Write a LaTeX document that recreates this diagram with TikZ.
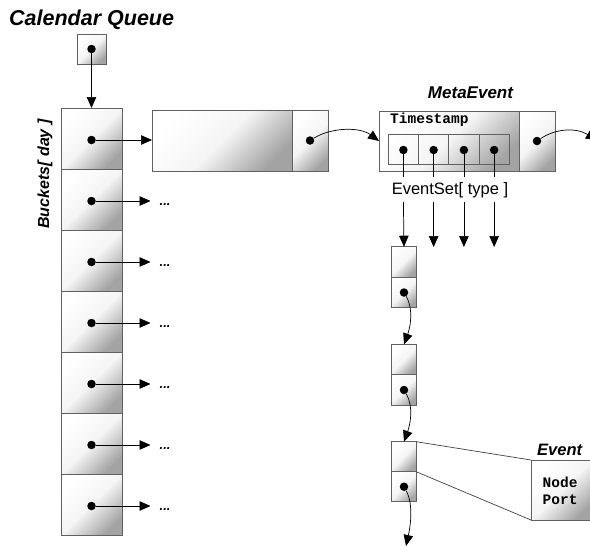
\documentclass[tikz,border=0pt]{standalone}
\usepackage{fontspec}
\setmainfont{Liberation Sans}
\newfontfamily\monofont{Liberation Mono}
\usetikzlibrary{arrows.meta}
\tikzset{
  cell/.style={draw=black!62, line width=0.9pt, inner sep=0pt, outer sep=0pt,
    top color=white, bottom color=black!36, middle color=black!4, shading angle=45},
  plain/.style={draw=black!62, line width=0.9pt, inner sep=0pt, outer sep=0pt},
  dotn/.style={circle, fill=black, inner sep=0pt, minimum size=8.5pt},
  arr/.style={-{Triangle[length=11pt,width=9.5pt]}, line width=0.7pt, black},
  conn/.style={line width=0.7pt, black},
  slant/.style={line width=0.7pt, black!75},
  title/.style={font=\fontsize{21.5}{23}\selectfont\bfseries\itshape, inner sep=0pt},
  lbl/.style={font=\fontsize{16.5}{18}\selectfont\bfseries\itshape, inner sep=0pt},
  more/.style={font=\fontsize{13}{14}\selectfont\bfseries\itshape, inner sep=0pt},
  mono/.style={font=\fontsize{14.5}{16}\selectfont\monofont\bfseries, inner sep=0pt},
}
\begin{document}
\begin{tikzpicture}[x=1pt,y=-1pt]
\useasboundingbox (0,0) rectangle (590,547);
\clip (0,0) rectangle (590,547);

% title
\node[title, anchor=base west] (ttl) at (9,25) {Calendar Queue};
\node[cell, minimum width=29pt, minimum height=30pt] (cq) at (91.5,49) {};
\node[dotn] (dcq) at (cq.center) {};

% buckets
\node[lbl, rotate=90, font=\fontsize{16}{18}\selectfont\bfseries\itshape] (bkl) at (45,174) {Buckets[ day ]};
\foreach \i in {1,...,7}{
  \node[cell, minimum width=61pt, minimum height=61pt] (b\i) at (91.5,{138.5+61*(\i-1)}) {};
  \node[dotn] (db\i) at ([yshift=-1.5pt]b\i.center) {};
}
\draw[arr] (dcq) -- (b1.north);

% long box
\node[cell, minimum width=140pt, minimum height=61pt] (lb1) at (222,140.5) {};
\node[cell, minimum width=36pt, minimum height=61pt] (lb2) at (310,140.5) {};
\node[dotn] (dlb) at (lb2.center) {};
\draw[arr] (db1) -- (db1 -| lb1.west);

% other bucket pointers
\foreach \i in {2,...,7}{
  \coordinate (e\i) at ([xshift=59pt]db\i.center);
  \draw[arr] (db\i) -- (e\i);
  \node[more, anchor=base west] (m\i) at ([xshift=9pt,yshift=-4pt]e\i) {...};
}

% MetaEvent
\node[lbl, anchor=base, font=\fontsize{17}{18}\selectfont\bfseries\itshape] (mel) at (470.5,98) {MetaEvent};
\node[cell, minimum width=140pt, minimum height=60pt] (me1) at (449,141) {};
\node[cell, minimum width=36pt, minimum height=60pt] (me2) at (537,141) {};
\node[dotn] (dme) at (me2.center) {};
\node[mono, anchor=west] (ts) at (390,120) {Timestamp};
\foreach \i in {1,...,4}{
  \node[plain, minimum width=30.25pt, minimum height=30pt] (c\i) at ({403.4+30.25*(\i-1)},149) {};
  \node[dotn] (dc\i) at ([yshift=-1pt]c\i.center) {};
}
\draw[arr] (dlb) .. controls (332,127) and (360,127) .. (me1.west);
\coordinate (mout) at (597,140);
\draw[arr] (dme) .. controls (555,129) and (575,127) .. (mout);

% EventSet
\node[font=\fontsize{16.5}{18}\selectfont, inner sep=0pt] (es) at (450,190) {EventSet[ type ]};
\foreach \i in {1,...,4}{
  \coordinate (u\i) at ([yshift=-27pt]dc\i.center);
  \draw[conn] (dc\i) -- (u\i);
}

% chain
\node[cell, minimum width=24.3pt, minimum height=30.6pt] (ch1a) at (404,262) {};
\node[cell, minimum width=24.3pt, minimum height=30.4pt] (ch1b) at (404,292.5) {};
\node[cell, minimum width=24.3pt, minimum height=30.6pt] (ch2a) at (404,359.7) {};
\node[cell, minimum width=24.3pt, minimum height=30.4pt] (ch2b) at (404,390) {};
\node[cell, minimum width=24.3pt, minimum height=30pt] (ch3a) at (404,456.7) {};
\node[cell, minimum width=24.3pt, minimum height=30pt] (ch3b) at (404,486.7) {};
\node[dotn] (dch1) at (ch1b.center) {};
\node[dotn] (dch2) at (ch2b.center) {};
\node[dotn] (dch3) at (ch3b.center) {};

\coordinate (w1) at ([yshift=-25pt]u1);
\draw[arr] (w1) -- (ch1a.north);
\foreach \i in {2,...,4}{
  \coordinate (w\i) at ([yshift=-25pt]u\i);
  \coordinate (z\i) at ([yshift=-70pt]u\i);
  \draw[arr] (w\i) -- (z\i);
}
\draw[arr] (dch1) .. controls (414,310) and (410,328) .. (ch2a.north);
\draw[arr] (dch2) .. controls (414,407) and (410,425) .. (ch3a.north);
\coordinate (cend) at (406,546);
\draw[arr] (dch3) .. controls (414,505) and (410,528) .. (cend);

% Event
\node[cell, minimum width=62pt, minimum height=60pt, anchor=north west] (ev) at (531,460) {};
\node[lbl, anchor=base west] (evl) at (537,455) {Event};
\node[mono, anchor=west] (nd) at (542.5,482) {Node};
\node[mono, anchor=west] (pt) at (542.5,500) {Port};
\draw[slant] (ch3a.north east) -- (ev.north west);
\draw[slant] (ch3a.south east) -- (ev.south west);
\end{tikzpicture}
\end{document}
